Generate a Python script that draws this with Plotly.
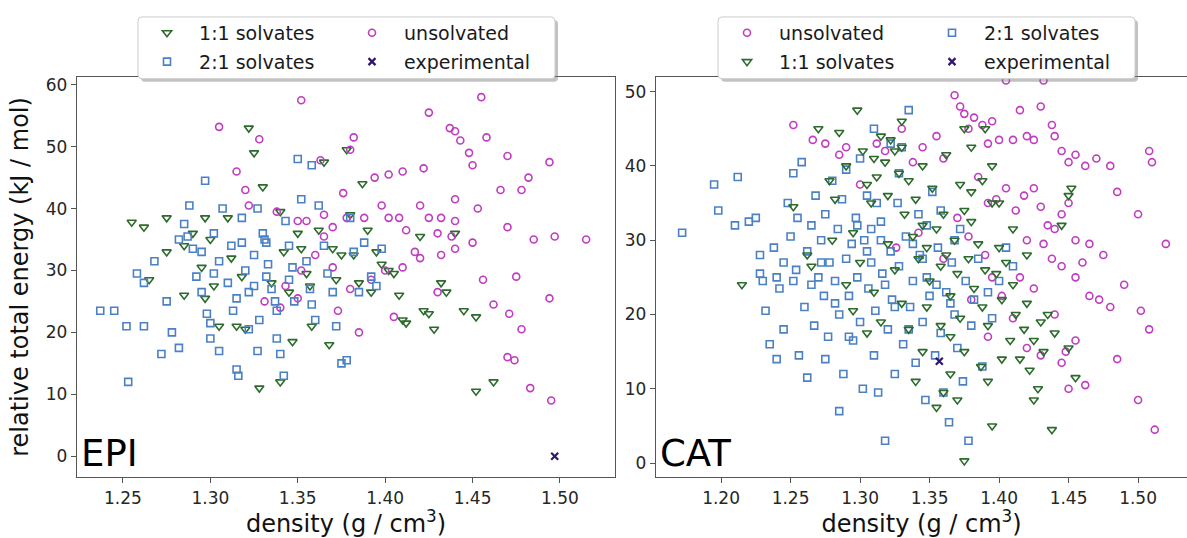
import plotly.graph_objects as go

# ---------------- data (density g/cm3, relative total energy kJ/mol) ----------------
EPI_11 = [(1.255, 37.8), (1.262, 37.0), (1.265, 28.5), (1.275, 33.0), (1.275, 38.5), (1.285, 34.0),
          (1.290, 36.0), (1.297, 38.5), (1.295, 30.5), (1.302, 27.5), (1.310, 38.5), (1.305, 21.0),
          (1.315, 21.0), (1.320, 20.5), (1.322, 53.0), (1.325, 49.0), (1.330, 43.5), (1.340, 39.5),
          (1.342, 33.0), (1.345, 26.5), (1.350, 36.0), (1.352, 33.5), (1.355, 29.5), (1.357, 27.5),
          (1.358, 21.0), (1.365, 47.5), (1.368, 18.0), (1.370, 33.5), (1.372, 28.5), (1.375, 32.5),
          (1.378, 49.5), (1.380, 39.0), (1.382, 32.5), (1.385, 28.0), (1.387, 44.0), (1.390, 36.5),
          (1.392, 26.5), (1.395, 33.0), (1.398, 31.0), (1.402, 30.0), (1.405, 29.5), (1.408, 26.0),
          (1.410, 22.0), (1.412, 21.5), (1.420, 35.5), (1.422, 23.5), (1.425, 23.0), (1.428, 20.5),
          (1.432, 28.0), (1.435, 26.5), (1.440, 36.0), (1.445, 23.5), (1.452, 22.5), (1.452, 10.5),
          (1.462, 12.0), (1.328, 11.0), (1.340, 12.0), (1.312, 32.0), (1.300, 35.0), (1.335, 28.0),
          (1.318, 29.0), (1.285, 26.0), (1.297, 25.5), (1.362, 36.5), (1.347, 18.5)]

EPI_21 = [(1.237, 23.5), (1.245, 23.5), (1.252, 21.0), (1.253, 12.0), (1.258, 29.5), (1.262, 21.0),
          (1.262, 28.0), (1.268, 31.5), (1.272, 16.5), (1.275, 25.0), (1.278, 20.0), (1.282, 17.5),
          (1.285, 37.5), (1.287, 35.5), (1.288, 40.5), (1.290, 33.5), (1.292, 29.0), (1.295, 26.5),
          (1.297, 44.5), (1.298, 23.0), (1.300, 21.5), (1.302, 36.0), (1.305, 31.5), (1.307, 40.0),
          (1.310, 28.0), (1.312, 34.0), (1.313, 23.5), (1.315, 14.0), (1.316, 13.0), (1.318, 38.5),
          (1.320, 30.0), (1.322, 26.5), (1.325, 32.5), (1.327, 40.0), (1.328, 22.0), (1.330, 36.0),
          (1.331, 35.0), (1.332, 34.5), (1.333, 31.0), (1.335, 27.0), (1.337, 25.0), (1.338, 19.0),
          (1.340, 16.5), (1.342, 13.0), (1.345, 34.0), (1.347, 30.5), (1.348, 25.0), (1.350, 48.0),
          (1.352, 41.5), (1.355, 31.5), (1.357, 27.0), (1.358, 24.5), (1.360, 22.0), (1.362, 40.5),
          (1.365, 34.0), (1.367, 29.5), (1.370, 26.5), (1.372, 21.0), (1.375, 15.0), (1.378, 15.5),
          (1.380, 38.5), (1.382, 33.0), (1.385, 26.5), (1.388, 34.5), (1.392, 29.0), (1.395, 27.5),
          (1.398, 33.5), (1.305, 17.0), (1.300, 19.0), (1.282, 35.0), (1.315, 25.5), (1.322, 20.5),
          (1.327, 17.0), (1.332, 29.0), (1.338, 23.5), (1.302, 29.5), (1.295, 33.0), (1.358, 47.0),
          (1.343, 38.0), (1.318, 34.5), (1.325, 27.5), (1.345, 28.5)]

EPI_UNSOLV = [(1.305, 53.2), (1.328, 51.2), (1.352, 57.5), (1.363, 47.8), (1.382, 51.5), (1.380, 49.5),
              (1.376, 42.5), (1.394, 45.0), (1.402, 45.5), (1.410, 46.0), (1.422, 46.5), (1.425, 55.5),
              (1.437, 53.0), (1.440, 52.5), (1.443, 51.0), (1.455, 58.0), (1.458, 51.5), (1.448, 49.0),
              (1.450, 47.0), (1.470, 48.5), (1.478, 43.0), (1.482, 45.0), (1.466, 43.0), (1.494, 47.5),
              (1.440, 41.5), (1.453, 40.0), (1.420, 40.5), (1.398, 40.5), (1.388, 38.5), (1.378, 38.5),
              (1.370, 37.0), (1.365, 39.0), (1.355, 38.0), (1.350, 38.0), (1.338, 39.5), (1.320, 43.0),
              (1.315, 46.0), (1.322, 40.5), (1.402, 38.5), (1.408, 38.5), (1.412, 36.5), (1.425, 38.5),
              (1.432, 38.5), (1.440, 38.0), (1.430, 36.0), (1.438, 35.5), (1.440, 33.5), (1.432, 32.5),
              (1.450, 34.5), (1.470, 37.0), (1.485, 35.0), (1.497, 35.5), (1.515, 35.0), (1.417, 33.0),
              (1.420, 32.0), (1.410, 30.5), (1.400, 30.0), (1.392, 28.5), (1.380, 27.0), (1.370, 30.5),
              (1.365, 35.5), (1.360, 32.5), (1.352, 30.0), (1.350, 25.5), (1.343, 27.5), (1.373, 23.5),
              (1.385, 20.0), (1.405, 22.5), (1.430, 26.5), (1.456, 28.5), (1.475, 29.0), (1.462, 24.5),
              (1.471, 23.0), (1.478, 20.5), (1.470, 16.0), (1.474, 15.5), (1.494, 25.5), (1.495, 9.0),
              (1.483, 11.0), (1.331, 25.0), (1.340, 24.0)]

EPI_EXP = [(1.497, 0.0)]

CAT_UNSOLV = [(1.252, 45.5), (1.275, 43.0), (1.290, 42.5), (1.318, 42.0), (1.338, 40.5), (1.345, 42.5),
              (1.355, 44.0), (1.360, 41.0), (1.368, 49.5), (1.372, 48.0), (1.375, 47.0), (1.378, 45.0),
              (1.382, 46.5), (1.388, 45.5), (1.392, 43.0), (1.395, 46.0), (1.400, 43.5), (1.405, 51.5),
              (1.410, 43.5), (1.415, 47.5), (1.420, 44.0), (1.425, 43.5), (1.430, 48.0), (1.432, 51.5),
              (1.438, 45.5), (1.440, 44.0), (1.445, 42.0), (1.450, 40.5), (1.455, 41.5), (1.462, 40.0),
              (1.470, 41.0), (1.480, 40.0), (1.508, 42.0), (1.510, 40.5), (1.385, 38.5), (1.392, 35.0),
              (1.398, 35.5), (1.405, 37.0), (1.412, 34.0), (1.418, 36.0), (1.425, 37.0), (1.430, 34.5),
              (1.435, 32.0), (1.440, 31.5), (1.445, 33.5), (1.450, 35.0), (1.455, 30.0), (1.460, 27.0),
              (1.465, 29.5), (1.475, 28.0), (1.485, 36.5), (1.500, 33.5), (1.520, 29.5), (1.420, 30.0),
              (1.432, 29.5), (1.438, 27.5), (1.445, 26.5), (1.455, 25.0), (1.465, 22.5), (1.472, 22.0),
              (1.480, 21.0), (1.490, 24.0), (1.502, 20.5), (1.508, 18.0), (1.415, 25.0), (1.425, 23.5),
              (1.410, 19.5), (1.420, 15.5), (1.430, 14.5), (1.445, 13.5), (1.455, 16.5), (1.462, 10.5),
              (1.485, 14.0), (1.500, 8.5), (1.512, 4.5), (1.448, 15.0), (1.450, 10.0), (1.370, 33.0),
              (1.378, 30.5), (1.390, 28.0), (1.360, 27.5), (1.395, 25.0), (1.402, 22.5), (1.380, 22.0),
              (1.440, 20.0), (1.392, 17.0), (1.326, 29.0), (1.342, 31.0), (1.285, 41.5), (1.300, 37.5),
              (1.312, 43.0), (1.330, 45.0), (1.266, 43.5)]

CAT_21 = [(1.172, 31.0), (1.195, 37.5), (1.198, 34.0), (1.210, 32.0), (1.212, 38.5), (1.220, 32.5),
          (1.225, 33.0), (1.228, 25.5), (1.230, 24.5), (1.232, 20.5), (1.235, 16.0), (1.238, 29.0),
          (1.240, 14.0), (1.242, 23.5), (1.245, 27.0), (1.248, 35.0), (1.250, 30.5), (1.252, 39.0),
          (1.254, 26.0), (1.256, 14.5), (1.258, 40.5), (1.260, 21.0), (1.262, 28.5), (1.265, 32.0),
          (1.267, 18.5), (1.268, 36.0), (1.270, 25.0), (1.272, 30.0), (1.274, 22.5), (1.275, 33.5),
          (1.277, 17.0), (1.278, 27.0), (1.280, 38.0), (1.282, 24.5), (1.284, 31.5), (1.285, 20.0),
          (1.287, 35.5), (1.288, 12.0), (1.290, 27.5), (1.292, 22.5), (1.294, 29.5), (1.295, 16.5),
          (1.297, 33.0), (1.298, 25.0), (1.300, 19.0), (1.302, 10.0), (1.303, 30.0), (1.305, 36.0),
          (1.306, 23.5), (1.308, 27.0), (1.310, 14.5), (1.311, 20.5), (1.313, 9.5), (1.315, 32.5),
          (1.316, 25.5), (1.318, 3.0), (1.320, 18.0), (1.322, 28.5), (1.323, 22.0), (1.325, 12.0),
          (1.327, 35.0), (1.328, 26.5), (1.330, 42.5), (1.331, 16.0), (1.333, 30.5), (1.335, 47.5),
          (1.336, 21.0), (1.338, 24.5), (1.340, 13.5), (1.342, 33.5), (1.343, 28.0), (1.345, 19.0),
          (1.347, 8.5), (1.348, 25.0), (1.350, 22.5), (1.352, 36.5), (1.354, 14.5), (1.356, 29.0),
          (1.358, 17.5), (1.360, 9.5), (1.362, 23.0), (1.364, 5.5), (1.366, 27.0), (1.368, 20.0),
          (1.370, 15.5), (1.372, 31.5), (1.374, 11.0), (1.376, 24.5), (1.378, 3.0), (1.380, 18.5),
          (1.382, 22.0), (1.385, 27.5), (1.388, 13.0), (1.392, 23.0), (1.395, 19.5), (1.400, 24.5),
          (1.405, 29.0), (1.410, 26.5), (1.300, 41.0), (1.310, 45.0), (1.322, 43.0), (1.290, 39.5),
          (1.255, 33.0), (1.245, 18.0), (1.262, 11.5), (1.275, 14.0), (1.285, 7.0), (1.298, 32.0),
          (1.305, 28.5), (1.315, 30.0), (1.325, 21.0), (1.335, 18.0), (1.345, 27.5), (1.355, 24.0),
          (1.365, 21.5), (1.292, 17.0), (1.282, 21.5), (1.272, 27.0), (1.265, 24.0), (1.252, 24.5),
          (1.312, 35.0), (1.328, 39.0), (1.318, 24.0), (1.308, 31.5), (1.338, 29.5), (1.348, 32.0),
          (1.358, 34.0), (1.368, 30.0), (1.240, 25.0), (1.228, 28.0)]

CAT_11 = [(1.215, 24.0), (1.252, 34.5), (1.262, 28.0), (1.270, 45.0), (1.278, 38.0), (1.282, 35.5),
          (1.285, 44.5), (1.290, 40.0), (1.295, 31.0), (1.298, 47.5), (1.302, 42.0), (1.305, 37.5),
          (1.308, 35.0), (1.310, 41.0), (1.312, 38.5), (1.315, 44.0), (1.318, 40.5), (1.320, 36.0),
          (1.322, 43.5), (1.325, 42.0), (1.328, 39.0), (1.330, 46.0), (1.332, 33.5), (1.335, 38.0),
          (1.338, 30.5), (1.340, 35.5), (1.342, 27.5), (1.345, 32.0), (1.348, 29.0), (1.350, 24.5),
          (1.352, 37.0), (1.355, 31.5), (1.358, 26.5), (1.360, 33.5), (1.362, 28.0), (1.365, 22.5),
          (1.368, 30.0), (1.370, 25.5), (1.372, 19.5), (1.375, 34.0), (1.378, 27.5), (1.380, 32.5),
          (1.382, 23.5), (1.385, 29.5), (1.388, 21.0), (1.390, 26.0), (1.392, 18.5), (1.395, 35.0),
          (1.398, 25.5), (1.400, 29.0), (1.402, 22.0), (1.405, 27.0), (1.408, 16.5), (1.410, 24.0),
          (1.412, 20.0), (1.415, 14.0), (1.418, 18.0), (1.420, 21.5), (1.422, 12.5), (1.425, 16.5),
          (1.428, 10.0), (1.430, 19.0), (1.432, 15.0), (1.435, 20.0), (1.438, 4.5), (1.440, 17.5),
          (1.445, 32.0), (1.450, 36.0), (1.452, 37.0), (1.455, 11.5), (1.450, 15.5), (1.390, 45.0),
          (1.395, 40.0), (1.400, 35.0), (1.388, 38.0), (1.380, 42.5), (1.375, 45.0), (1.370, 8.5),
          (1.365, 12.0), (1.360, 9.5), (1.355, 7.5), (1.395, 5.0), (1.375, 0.3), (1.345, 15.0),
          (1.340, 11.0), (1.335, 18.0), (1.330, 21.5), (1.325, 26.0), (1.320, 29.5), (1.315, 19.0),
          (1.310, 23.0), (1.305, 17.5), (1.300, 27.0), (1.295, 20.5), (1.290, 24.0), (1.280, 30.0),
          (1.265, 26.5), (1.345, 40.0), (1.362, 41.5), (1.330, 42.5), (1.380, 36.5), (1.372, 37.5),
          (1.410, 31.5), (1.420, 28.0), (1.402, 14.0), (1.387, 13.0), (1.365, 17.0), (1.348, 21.0),
          (1.358, 18.5), (1.375, 15.0), (1.392, 11.0), (1.425, 8.5)]

CAT_EXP = [(1.357, 13.7)]

X_TITLE = "density (g / cm<sup>3</sup>)"
Y_TITLE = "relative total energy (kJ / mol)"

# ---------------- styling ----------------
FONT = "DejaVu Sans"
W, H = 1187, 538
C_UNSOLV = "#c03cc0"
C_11 = "#2d6b2d"
C_21 = "#4a80c4"
C_EXP = "#2e1670"

STYLE = {
    "1:1 solvates": dict(symbol="triangle-down-open", size=8, color=C_11),
    "2:1 solvates": dict(symbol="square-open", size=7, color=C_21),
    "unsolvated": dict(symbol="circle-open", size=7, color=C_UNSOLV),
    "experimental": dict(symbol="x-thin-open", size=7, color=C_EXP),
}


def add(fig, pts, name, xa, ya, legend):
    st = STYLE[name]
    fig.add_trace(go.Scatter(
        x=[p[0] for p in pts], y=[p[1] for p in pts], mode="markers",
        name="\u00a0\u00a0" + name, legend=legend, xaxis=xa, yaxis=ya,
        marker=dict(symbol=st["symbol"], size=st["size"], color=st["color"],
                    line=dict(color=st["color"], width=1.6 if name != "experimental" else 2.2)),
        hoverinfo="skip"))


fig = go.Figure()
# left panel (EPI)
add(fig, EPI_11, "1:1 solvates", "x", "y", "legend")
add(fig, EPI_UNSOLV, "unsolvated", "x", "y", "legend")
add(fig, EPI_21, "2:1 solvates", "x", "y", "legend2")
add(fig, EPI_EXP, "experimental", "x", "y", "legend2")
# right panel (CAT)
add(fig, CAT_UNSOLV, "unsolvated", "x2", "y2", "legend3")
add(fig, CAT_21, "2:1 solvates", "x2", "y2", "legend3")
add(fig, CAT_11, "1:1 solvates", "x2", "y2", "legend4")
add(fig, CAT_EXP, "experimental", "x2", "y2", "legend4")

tickfont = dict(family=FONT, size=17, color="#262626")
titlefont = dict(family=FONT, size=24, color="#111111")
axcol = "#555555"

ydom = [1 - 477 / H, 1 - 75 / H]

common_x = dict(showgrid=False, zeroline=False, showline=True, linecolor=axcol, linewidth=1.3,
                ticks="outside", ticklen=5, tickwidth=1.2, tickcolor=axcol, tickfont=tickfont,
                tickformat=".2f", mirror=True, title=dict(text=X_TITLE, font=titlefont, standoff=6))
common_y = dict(showgrid=False, zeroline=False, showline=True, linecolor=axcol, linewidth=1.3,
                ticks="outside", ticklen=5, tickwidth=1.2, tickcolor=axcol, tickfont=tickfont)

fig.update_layout(
    width=W, height=H, margin=dict(l=0, r=0, t=0, b=0),
    paper_bgcolor="white", plot_bgcolor="white", showlegend=True,
    xaxis=dict(common_x, domain=[77 / W, 615 / W], range=[1.2237, 1.5315], dtick=0.05, anchor="y"),
    yaxis=dict(common_y, domain=ydom, range=[-3.4, 61.3], dtick=10, mirror=True, anchor="x",
               title=dict(text=Y_TITLE, font=titlefont, standoff=10)),
    xaxis2=dict(common_x, domain=[656 / W, 1.0], range=[1.1532, 1.5352], dtick=0.05, anchor="y2"),
    yaxis2=dict(common_y, domain=ydom, range=[-1.9, 52.0], dtick=10, mirror=False, anchor="x2"),
)

leg_common = dict(orientation="h", bgcolor="rgba(0,0,0,0)", borderwidth=0,
                  font=dict(family=FONT, size=19, color="#1a1a1a"),
                  entrywidthmode="pixels", entrywidth=160, xanchor="left", yanchor="middle",
                  itemclick=False, itemdoubleclick=False)
fig.update_layout(
    legend=dict(leg_common, x=147 / W, y=1 - 31 / H),
    legend2=dict(leg_common, x=147 / W, y=1 - 60 / H),
    legend3=dict(leg_common, x=727 / W, y=1 - 31 / H),
    legend4=dict(leg_common, x=727 / W, y=1 - 60 / H),
)


def rrect(x0, y0, x1, y1, r=4):
    X = lambda v: v / W
    Y = lambda v: 1 - v / H
    return (f"M {X(x0 + r)},{Y(y0)} L {X(x1 - r)},{Y(y0)} Q {X(x1)},{Y(y0)} {X(x1)},{Y(y0 + r)} "
            f"L {X(x1)},{Y(y1 - r)} Q {X(x1)},{Y(y1)} {X(x1 - r)},{Y(y1)} "
            f"L {X(x0 + r)},{Y(y1)} Q {X(x0)},{Y(y1)} {X(x0)},{Y(y1 - r)} "
            f"L {X(x0)},{Y(y0 + r)} Q {X(x0)},{Y(y0)} {X(x0 + r)},{Y(y0)} Z")


shapes = []
for (x0, y0, x1, y1) in [(138, 15, 555, 77), (718, 15, 1135, 77)]:
    shapes.append(dict(type="path", xref="paper", yref="paper", path=rrect(x0 + 3, y0 + 3, x1 + 3, y1 + 3),
                       fillcolor="rgba(120,120,120,0.45)", line=dict(width=0), layer="above"))
    shapes.append(dict(type="path", xref="paper", yref="paper", path=rrect(x0, y0, x1, y1),
                       fillcolor="rgba(255,255,255,1)", line=dict(color="#cccccc", width=1), layer="above"))
fig.update_layout(shapes=shapes)

fig.add_annotation(text="EPI", xref="x domain", yref="y domain", x=0.004, y=0.0,
                   xanchor="left", yanchor="bottom", showarrow=False,
                   font=dict(family=FONT, size=37, color="black"))
fig.add_annotation(text="CAT", xref="x2 domain", yref="y2 domain", x=0.004, y=0.0,
                   xanchor="left", yanchor="bottom", showarrow=False,
                   font=dict(family=FONT, size=37, color="black"))

fig.write_html("out.html")
